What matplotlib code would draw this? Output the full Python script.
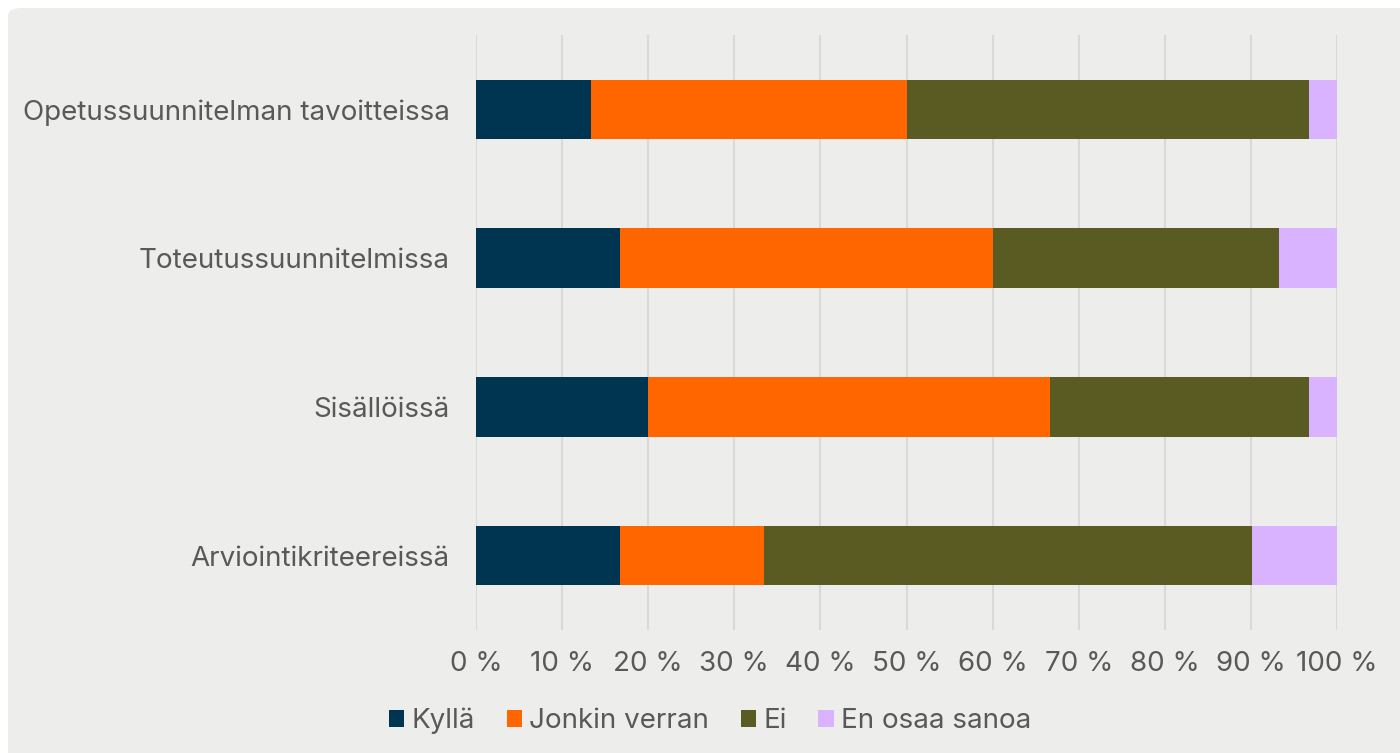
import matplotlib.pyplot as plt
from matplotlib.patches import FancyBboxPatch
from matplotlib.ticker import FuncFormatter
import numpy as np

categories = ["Opetussuunnitelman tavoitteissa", "Toteutussuunnitelmissa",
              "Sisällöissä", "Arviointikriteereissä"]
series_names = ["Kyllä", "Jonkin verran", "Ei", "En osaa sanoa"]
kylla = [13.3, 16.7, 20.0, 16.7]
jonkin = [36.7, 43.3, 46.7, 16.7]
ei = [46.7, 33.3, 30.0, 56.7]
en_osaa = [3.3, 6.7, 3.3, 10.0]

colors = ["#003552", "#FF6600", "#5A5A23", "#D9B3FF"]
TEXT = "#595959"
BG = "#EDEDEB"

plt.rcParams["font.family"] = ["Inter", "DejaVu Sans"]

fig = plt.figure(figsize=(14, 7.53), dpi=100)
fig.patch.set_facecolor("white")
bg = FancyBboxPatch((8 / 1400, -0.05), 1.1, 1.05 - 8 / 753,
                    boxstyle="round,pad=0,rounding_size=0.01",
                    transform=fig.transFigure, facecolor=BG, edgecolor="none", zorder=-5)
fig.patches.append(bg)

ax = fig.add_axes([476 / 1400, 1 - 630 / 753, (1337 - 476) / 1400, (630 - 35) / 753])
ax.set_facecolor("none")
ax.set_zorder(2)

y = np.arange(len(categories))
left = np.zeros(len(categories))
for name, vals, c in zip(series_names, [kylla, jonkin, ei, en_osaa], colors):
    ax.barh(y, vals, left=left, height=0.4, color=c, label=name, zorder=3)
    left += np.array(vals)

ax.set_ylim(3.5, -0.5)
ax.set_xlim(0, 100)
ax.set_xticks(range(0, 101, 10))
ax.xaxis.set_major_formatter(FuncFormatter(lambda v, p: f"{int(v)} %"))
ax.set_yticks(y)
ax.set_yticklabels(categories)
ax.xaxis.grid(True, color="#D9D9D9", linewidth=1.5)
ax.set_axisbelow(True)
for s in ax.spines.values():
    s.set_visible(False)
ax.tick_params(axis="both", length=0, colors=TEXT, labelsize=20)
ax.tick_params(axis="x", pad=15)
ax.tick_params(axis="y", pad=19)

leg = fig.legend(loc="center", bbox_to_anchor=(710 / 1400, 1 - 721 / 753), ncol=4,
                 frameon=False, fontsize=20, handlelength=0.55, handleheight=0.55,
                 handletextpad=0.25, columnspacing=1.15)
for t in leg.get_texts():
    t.set_color(TEXT)

fig.savefig("out.png", dpi=100, facecolor=fig.get_facecolor())
